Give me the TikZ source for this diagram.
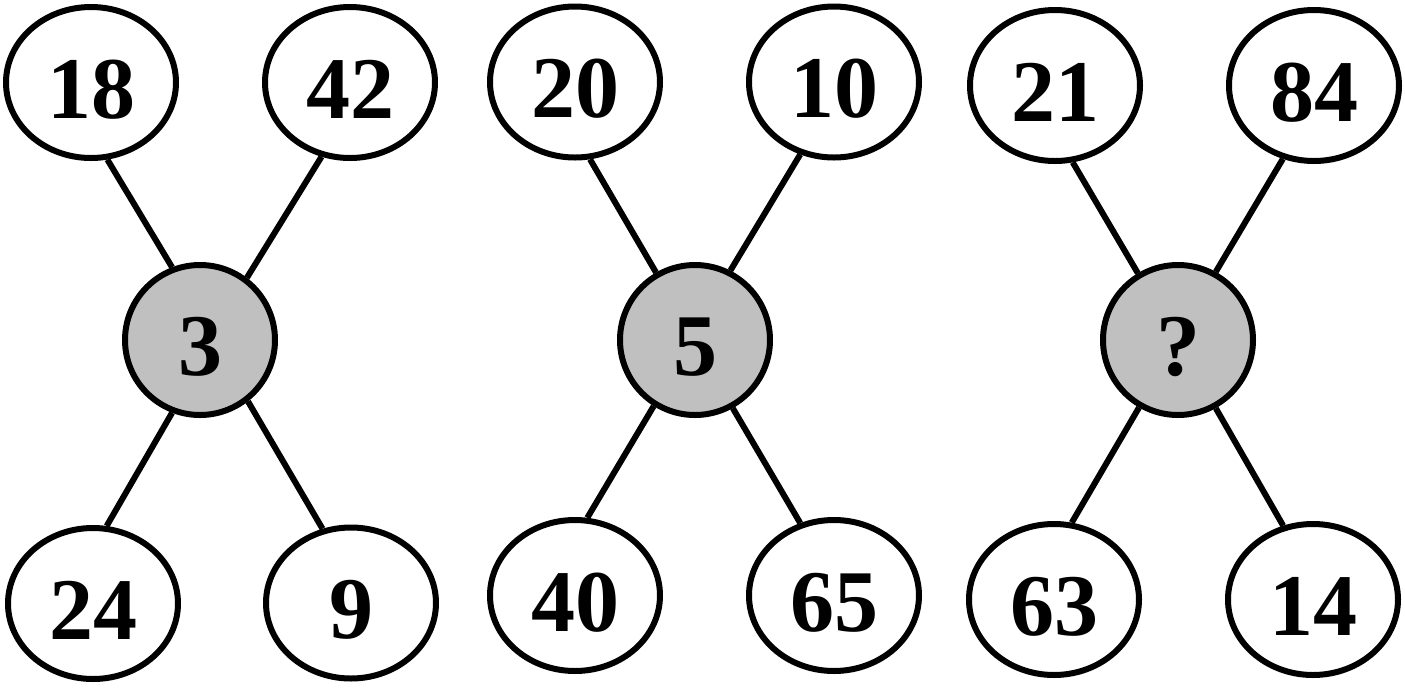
\documentclass[tikz,border=0pt]{standalone}
\usepackage{fontspec}
\setmainfont{Liberation Serif}
\usetikzlibrary{shapes.geometric}
\definecolor{hubgray}{RGB}{192,192,192}
\begin{document}
\begin{tikzpicture}
 		[x=0.5pt,y=-0.5pt,line width=3pt,
 		num/.style={draw,line width=3pt,inner sep=0pt,font=\fontsize{44}{44}\selectfont\bfseries,text height=35.7pt,text depth=0pt},
 		leaf/.style={num,ellipse,minimum width=85pt,minimum height=75.5pt},
 		hub/.style={num,circle,fill=hubgray,minimum size=75pt}]
 		\useasboundingbox (0,0) rectangle (1405,687);
 		% first cross
 		\node[leaf] (tl1) at (91,82.5) {18};
 		\node[leaf] (tr1) at (350,82.5) {42};
 		\node[hub] (hub1) at (200,340) {3};
 		\node[leaf] (bl1) at (93,603.5) {24};
 		\node[leaf] (br1) at (351,603) {9};
 		\draw (tl1.-78) -- (hub1.111);
 		\draw (tr1.-111) -- (hub1.53);
 		\draw (bl1.80) -- (hub1.-111);
 		\draw (br1.111) -- (hub1.-52);
 		% second cross
 		\node[leaf] (tl2) at (575,82) {20};
 		\node[leaf] (tr2) at (834,82) {10};
 		\node[hub] (hub2) at (695,340) {5};
 		\node[leaf] (bl2) at (575,595.5) {40};
 		\node[leaf] (br2) at (834,595.5) {65};
 		\draw (tl2.-79) -- (hub2.120);
 		\draw (tr2.-115) -- (hub2.63);
 		\draw (bl2.81) -- (hub2.-122);
 		\draw (br2.115) -- (hub2.-61);
 		% third cross
 		\node[leaf] (tl3) at (1055,85.5) {21};
 		\node[leaf] (tr3) at (1314,85.5) {84};
 		\node[hub] (hub3) at (1178,340) {?};
 		\node[leaf] (bl3) at (1054,599.5) {63};
 		\node[leaf] (br3) at (1313,599.5) {14};
 		\draw (tl3.-77) -- (hub3.121);
 		\draw (tr3.-113) -- (hub3.61);
 		\draw (bl3.77) -- (hub3.-120);
 		\draw (br3.112) -- (hub3.-61);
 	\end{tikzpicture}
\end{document}
